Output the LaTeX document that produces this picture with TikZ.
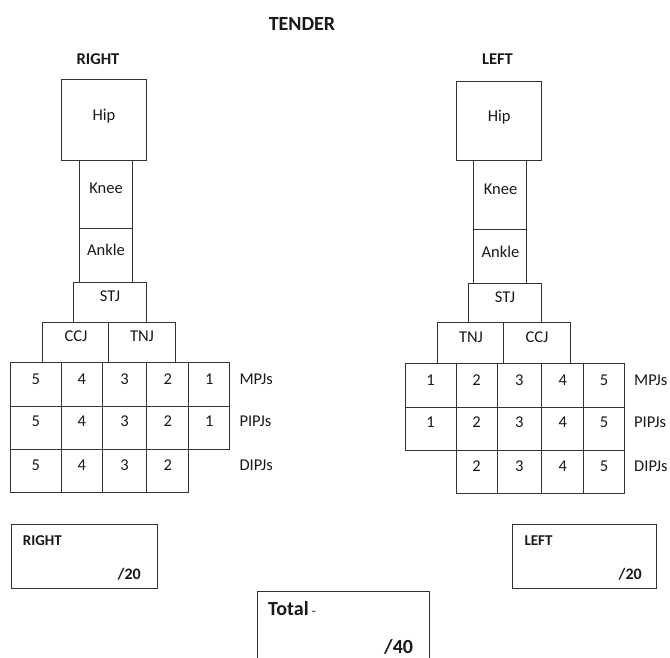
\documentclass[tikz,border=0pt]{standalone}
\usepackage{fontspec}
\setmainfont{Carlito}
\tikzset{
  box/.style={draw=black!80,line width=1pt},
  lbl/.style={text=black!90,inner sep=0pt,text height=10.5pt,text depth=0pt,font=\fontsize{16.5}{19}\selectfont},
  head/.style={lbl,font=\fontsize{16.5}{19}\selectfont\bfseries},
  score/.style={lbl,font=\fontsize{16}{19}\selectfont\bfseries},
}
\begin{document}
\begin{tikzpicture}[x=1pt,y=-1pt]
    \useasboundingbox (0,0) rectangle (670,658);
    \node[head,font=\fontsize{20}{24}\selectfont\bfseries,text height=12.8pt] (tender) at (302,24) {TENDER};
    \node[head] (headR) at (98,59) {RIGHT};
    \node[head] (headL) at (497.5,59) {LEFT};
    % right foot
    \draw[box] (61,80) rectangle (146.7,160.3);
    \draw[box] (79,160.3) rectangle (132,228.7);
    \draw[box] (79,228.7) rectangle (132,282.7);
    \draw[box] (73.3,282.7) rectangle (146.7,322);
    \draw[box] (42.3,322) rectangle (108.7,362);
    \draw[box] (108.7,322) rectangle (175.3,362);
    \node[lbl] (hipR) at (104,115.7) {Hip};
    \node[lbl] (kneeR) at (106,188) {Knee};
    \node[lbl] (ankleR) at (106,250.7) {Ankle};
    \node[lbl] (stjR) at (110,296.7) {STJ};
    \node[lbl] (ccjR) at (76,336.7) {CCJ};
    \node[lbl] (tnjR) at (142,336.7) {TNJ};
    \foreach \a/\b/\n in {10.3/61.3/5,61.3/102.3/4,102.3/146.7/3,146.7/188.7/2,188.7/229.7/1}{
        \draw[box] (\a,362) rectangle (\b,406);
        \draw[box] (\a,406) rectangle (\b,449.7);
        \node[lbl] (mR\n) at ({(\a+\b)/2},379.3) {\n};
        \node[lbl] (pR\n) at ({(\a+\b)/2},421.7) {\n};
    }
    \foreach \a/\b/\n in {10.3/61.3/5,61.3/102.3/4,102.3/146.7/3,146.7/188.7/2}{
        \draw[box] (\a,449.7) rectangle (\b,492);
        \node[lbl] (dR\n) at ({(\a+\b)/2},465.7) {\n};
    }
    \node[lbl,anchor=west] (mpjR) at (239.3,379.3) {MPJs};
    \node[lbl,anchor=west] (pipjR) at (239.3,421.7) {PIPJs};
    \node[lbl,anchor=west] (dipjR) at (239.3,465.7) {DIPJs};
    % left foot
    \draw[box] (456,81.7) rectangle (541.3,161);
    \draw[box] (473.7,161) rectangle (526.7,229.7);
    \draw[box] (473.7,229.7) rectangle (526.7,283.7);
    \draw[box] (468.3,283.7) rectangle (541.3,322.7);
    \draw[box] (437.3,322.7) rectangle (503.7,363);
    \draw[box] (503.7,322.7) rectangle (570.3,363);
    \node[lbl] (hipL) at (499.3,116.3) {Hip};
    \node[lbl] (kneeL) at (500.5,189) {Knee};
    \node[lbl] (ankleL) at (500.5,252) {Ankle};
    \node[lbl] (stjL) at (505,297.3) {STJ};
    \node[lbl] (tnjL) at (471,337.3) {TNJ};
    \node[lbl] (ccjL) at (537,337.3) {CCJ};
    \foreach \a/\b/\n in {405/456.3/1,456.3/497/2,497/541.7/3,541.7/583.7/4,583.7/624.3/5}{
        \draw[box] (\a,363) rectangle (\b,407);
        \draw[box] (\a,407) rectangle (\b,450.7);
        \node[lbl] (mL\n) at ({(\a+\b)/2},380) {\n};
        \node[lbl] (pL\n) at ({(\a+\b)/2},422.7) {\n};
    }
    \foreach \a/\b/\n in {456.3/497/2,497/541.7/3,541.7/583.7/4,583.7/624.3/5}{
        \draw[box] (\a,450.7) rectangle (\b,493);
        \node[lbl] (dL\n) at ({(\a+\b)/2},466.7) {\n};
    }
    \node[lbl,anchor=west] (mpjL) at (634,380) {MPJs};
    \node[lbl,anchor=west] (pipjL) at (634,422.7) {PIPJs};
    \node[lbl,anchor=west] (dipjL) at (634,466.7) {DIPJs};
    % scores
    \draw[box] (11.7,524.3) rectangle (157.7,588.3);
    \node[score,anchor=west,font=\fontsize{15}{18}\selectfont\bfseries,text height=9.7pt] (sumR) at (22.7,540.7) {RIGHT};
    \node[score,anchor=east] (outR) at (141,574) {/20};
    \draw[box] (512.7,524.3) rectangle (656.7,588.3);
    \node[score,anchor=west,font=\fontsize{15}{18}\selectfont\bfseries,text height=9.7pt] (sumL) at (524.3,540.7) {LEFT};
    \node[score,anchor=east] (outL) at (642,574) {/20};
    \draw[box] (257.3,662)--(257.3,591)--(429,591)--(429,662);
    \node[score,anchor=west,font=\fontsize{20}{24}\selectfont\bfseries,text height=12.8pt] (total) at (268,609.3) {Total\,{\mdseries\fontsize{13}{16}\selectfont -}};
    \node[score,anchor=east,font=\fontsize{20}{24}\selectfont\bfseries,text height=12.8pt] (outT) at (413.3,647.5) {/40};
\end{tikzpicture}
\end{document}
